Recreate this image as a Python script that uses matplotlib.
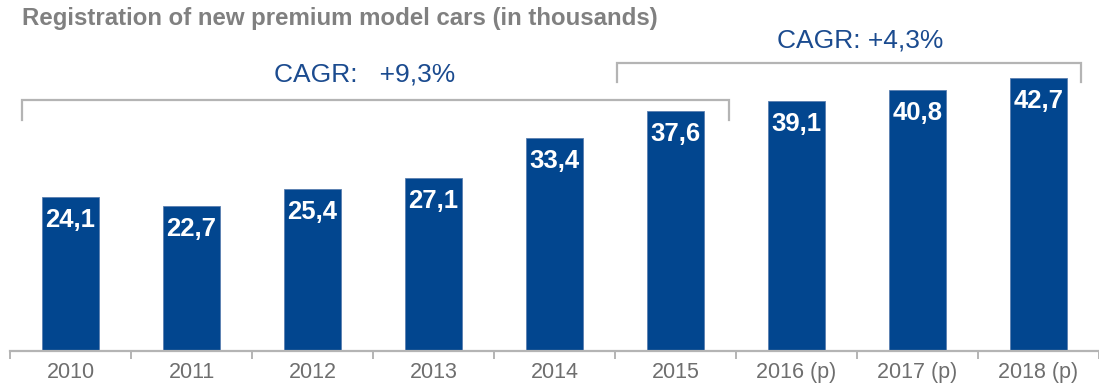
import matplotlib.pyplot as plt
import numpy as np

years = ["2010", "2011", "2012", "2013", "2014", "2015", "2016 (p)", "2017 (p)", "2018 (p)"]
values = [24.1, 22.7, 25.4, 27.1, 33.4, 37.6, 39.1, 40.8, 42.7]
cagr_left = "CAGR:   +9,3%"
cagr_right = "CAGR: +4,3%"
title = "Registration of new premium model cars (in thousands)"

blue = "#02468F"
grey_line = "#B4B4B4"
grey_text = "#6E6E6E"

plt.rcParams["font.family"] = ["Liberation Sans", "DejaVu Sans"]

fig = plt.figure(figsize=(10.99, 3.86), dpi=100)
ax = fig.add_axes([10 / 1099, 35 / 386, 1089 / 1099, 351 / 386])

x = np.arange(len(years))
bars = ax.bar(x, values, width=0.475, color=blue, edgecolor="#5A7FB0", linewidth=0.6)

# value labels inside the bars
for xi, v in zip(x, values):
    ax.annotate(f"{v:.1f}".replace(".", ","), (xi, v), xytext=(0, -8),
                textcoords="offset points", ha="center", va="top",
                color="white", fontsize=18.5, fontweight="bold")

ax.set_xlim(-0.5, 8 + (1099 - 1048) / 122)
ax.set_ylim(0, 351 / 6.39)

# brackets
def bracket(x0, x1, ytop, ybot):
    ax.plot([x0, x0, x1, x1], [ybot, ytop, ytop, ybot], color=grey_line, lw=1.6,
            solid_joinstyle="miter", clip_on=False)

bracket(-0.40, 5.44, 39.3, 36.2)
bracket(4.52, 8.35, 45.1, 42.1)
ax.text(2.43, 43.2, cagr_left, ha="center", va="center", color="#1B4B8F", fontsize=19)
ax.text(6.53, 48.6, cagr_right, ha="center", va="center", color="#1B4B8F", fontsize=19)

# axis
for s in ["top", "right", "left"]:
    ax.spines[s].set_visible(False)
ax.spines["bottom"].set_color(grey_line)
ax.spines["bottom"].set_linewidth(1.6)
ax.set_yticks([])
ax.set_xticks(np.arange(-0.5, 9, 1), minor=False)
ax.set_xticklabels([])
ax.tick_params(axis="x", which="major", length=6, width=1.4, color=grey_line)
ax.set_xticks(x, minor=True)
ax.set_xticklabels(years, minor=True)
ax.tick_params(axis="x", which="minor", length=0, pad=8, labelsize=15.5, labelcolor=grey_text)

fig.text(22 / 1099, 1 - 18 / 386, title, ha="left", va="center", color="#808080",
         fontsize=17.3, fontweight="bold")

fig.savefig("out.png", dpi=100)
